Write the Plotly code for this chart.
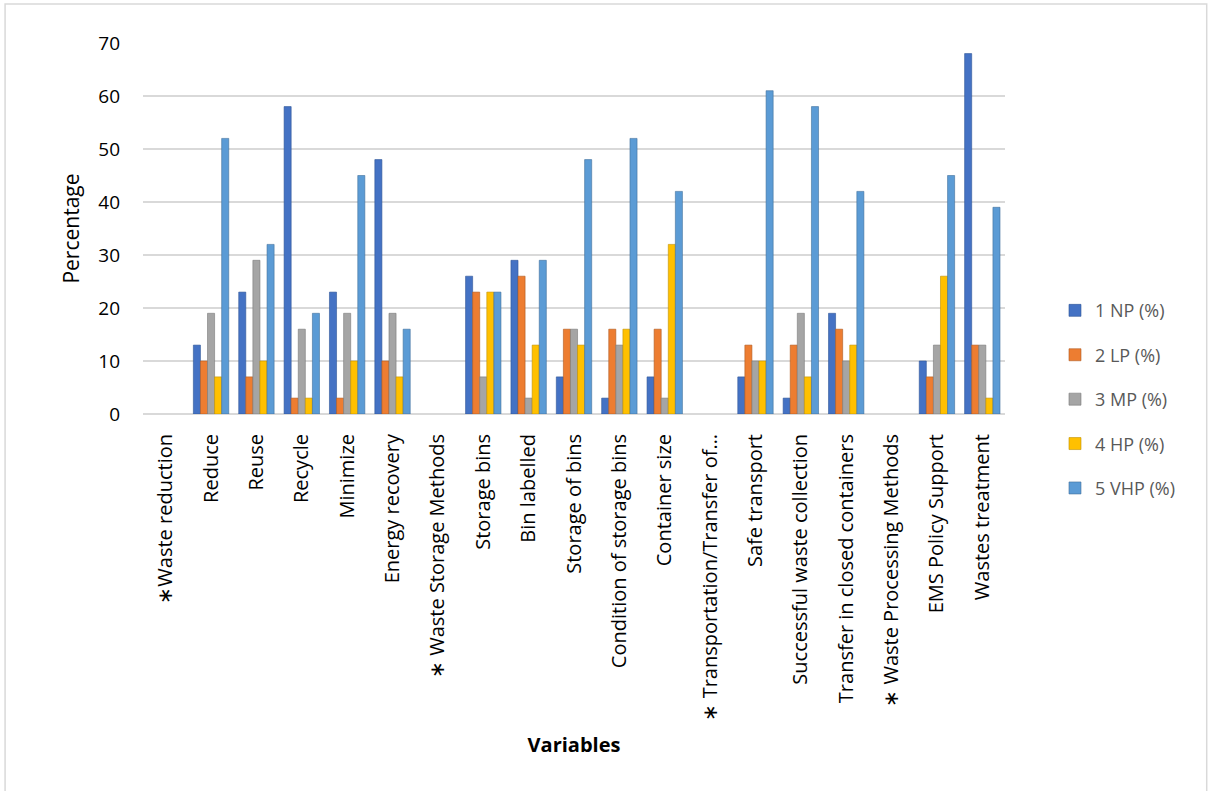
import plotly.graph_objects as go

# Survey variables (section headers marked with ∗ carry no responses)
categories = [
    "∗Waste reduction", "Reduce", "Reuse", "Recycle", "Minimize", "Energy recovery",
    "∗ Waste Storage Methods", "Storage bins", "Bin labelled", "Storage of bins",
    "Condition of storage bins", "Container size", "∗ Transportation/Transfer of…",
    "Safe transport", "Successful waste collection", "Transfer in closed containers",
    "∗ Waste Processing Methods", "EMS Policy Support", "Wastes treatment",
]

np_pct = [None, 13, 23, 58, 23, 48, None, 26, 29, 7, 3, 7, None, 7, 3, 19, None, 10, 68]
lp_pct = [None, 10, 7, 3, 3, 10, None, 23, 26, 16, 16, 16, None, 13, 13, 16, None, 7, 13]
mp_pct = [None, 19, 29, 16, 19, 19, None, 7, 3, 16, 13, 3, None, 10, 19, 10, None, 13, 13]
hp_pct = [None, 7, 10, 3, 10, 7, None, 23, 13, 13, 16, 32, None, 10, 7, 13, None, 26, 3]
vhp_pct = [None, 52, 32, 19, 45, 16, None, 23, 29, 48, 52, 42, None, 61, 58, 42, None, 45, 39]

series_names = ["1 NP (%)", "2 LP (%)", "3 MP (%)", "4 HP (%)", "5 VHP (%)"]
series_values = [np_pct, lp_pct, mp_pct, hp_pct, vhp_pct]
series_colors = ["#4472C4", "#ED7D31", "#A5A5A5", "#FFC000", "#5B9BD5"]
series_edges = ["#2F5597", "#AE5A21", "#7B7B7B", "#BF9000", "#41719C"]

FONT = "Open Sans"

fig = go.Figure()
for i, (name, vals, col, edge) in enumerate(zip(series_names, series_values, series_colors, series_edges)):
    fig.add_trace(go.Bar(
        x=categories, y=vals, name=name,
        marker=dict(color=col, line=dict(color=edge, width=0.6)),
        legendgroup=f"g{i}",
    ))

fig.update_layout(
    width=1214, height=791,
    margin=dict(l=143, r=209, t=43, b=377, autoexpand=False),
    paper_bgcolor="white", plot_bgcolor="white",
    barmode="group", bargap=0.22, bargroupgap=0.0,
    font=dict(family=FONT, size=17, color="#000000"),
    legend=dict(
        x=1.058, y=0.04, xanchor="left", yanchor="middle",
        font=dict(family=FONT, size=18, color="#595959"),
        tracegroupgap=18, itemclick=False, itemdoubleclick=False,
        bgcolor="rgba(0,0,0,0)",
    ),
    shapes=[dict(
        type="rect", xref="paper", yref="paper",
        x0=-0.16, x1=1.234, y0=-1.03, y1=1.105,
        line=dict(color="#D9D9D9", width=1.5), fillcolor="rgba(0,0,0,0)", layer="below",
    )],
)

fig.update_xaxes(
    type="category", categoryorder="array", categoryarray=categories,
    tickangle=-90, showgrid=False, showline=False, zeroline=False,
    ticks="", ticklabelstandoff=15,
    tickfont=dict(family=FONT, size=20, color="#000000"),
    title=dict(text="<b>Variables</b>", font=dict(family=FONT, size=20, color="#000000"), standoff=18),
)
fig.update_yaxes(
    range=[0, 70], dtick=10, tick0=0,
    showgrid=True, gridcolor="#D9D9D9", gridwidth=2,
    zeroline=True, zerolinecolor="#D9D9D9", zerolinewidth=2,
    showline=False, ticks="", ticklabelstandoff=22,
    tickfont=dict(family=FONT, size=19, color="#000000"),
    title=dict(text="Percentage", font=dict(family=FONT, size=21, color="#000000"), standoff=12),
)

fig.write_html("out.html")
